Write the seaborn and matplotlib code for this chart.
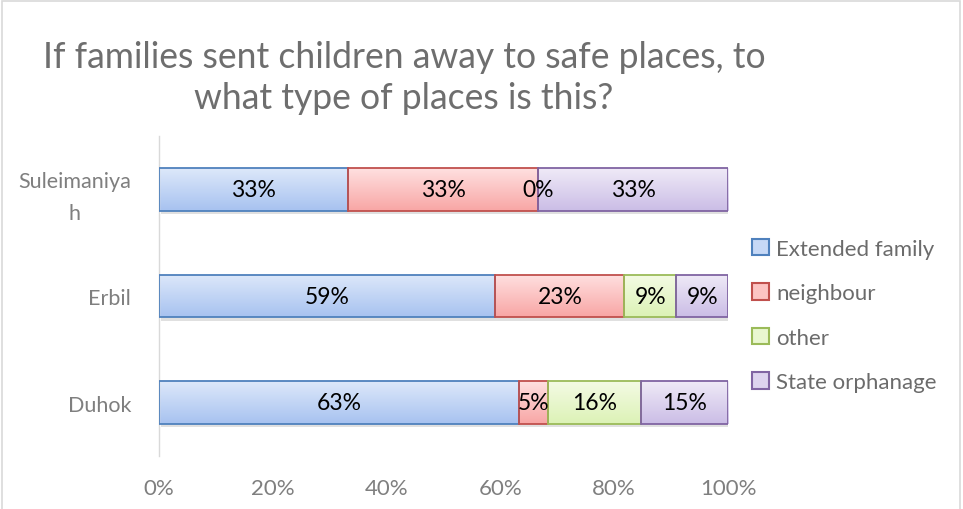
import numpy as np
import pandas as pd
import matplotlib
matplotlib.use("Agg")
import matplotlib.pyplot as plt
import seaborn as sns
from matplotlib.colors import LinearSegmentedColormap
from matplotlib.patches import Patch, Rectangle
from matplotlib import transforms

# ---- data ----
regions = ["Suleimaniyah", "Erbil", "Duhok"]
region_tick_labels = ["Suleimaniya\nh", "Erbil", "Duhok"]
series = ["Extended family", "neighbour", "other", "State orphanage"]
extended_family = [33.3, 59.1, 63.3]
neighbour = [33.3, 22.7, 5.1]
other = [0.0, 9.1, 16.3]
state_orphanage = [33.4, 9.1, 15.3]
x_ticks = [0, 20, 40, 60, 80, 100]
title = "If families sent children away to safe places, to\nwhat type of places is this?"

values = {
    "Extended family": extended_family,
    "neighbour": neighbour,
    "other": other,
    "State orphanage": state_orphanage,
}

# ---- styles ----
edge_colors = ["#4f81bd", "#c0504d", "#9bbb59", "#8064a2"]
grad_top = ["#dde8fa", "#ffe0e0", "#f4fbe4", "#efeaf7"]
grad_bot = ["#a7c2f0", "#f8a6a5", "#dcf2b6", "#cbbde6"]
mid_colors = ["#c6d8f6", "#fcc4c3", "#e9f7d0", "#ddd3ee"]

sns.set_theme(style="white")
plt.rcParams["font.family"] = ["Lato", "DejaVu Sans"]

W, H = 963, 510
fig = plt.figure(figsize=(W / 100, H / 100), dpi=100)
ax = fig.add_axes([159 / W, 1 - 457 / H, 569 / W, 320 / H])

df = pd.DataFrame(values)
df["region"] = regions
left = np.zeros(len(regions))
containers = []
for i, s in enumerate(series):
    sns.barplot(data=df, y="region", x=s, order=regions, orient="h",
                left=left.copy(), width=0.4, color=mid_colors[i],
                edgecolor=edge_colors[i], linewidth=1.3, ax=ax)
    containers.append(ax.containers[-1])
    left = left + df[s].to_numpy()

ax.set_xlim(0, 100)
ax.set_ylim(2.5, -0.5)

# gradient fill + shadow
for i, cont in enumerate(containers):
    cmap = LinearSegmentedColormap.from_list(f"g{i}", [grad_top[i], grad_bot[i]])
    for p in cont.patches:
        x0, y0, w, h = p.get_x(), p.get_y(), p.get_width(), p.get_height()
        if w <= 0:
            p.set_visible(False)
            continue
        sh = Rectangle((x0, y0), w, h, facecolor="black", edgecolor="none", alpha=0.12,
                       transform=transforms.offset_copy(ax.transData, fig=fig, x=1.5, y=-2.5, units="points"),
                       zorder=1)
        ax.add_patch(sh)
        grad = np.linspace(0, 1, 64).reshape(-1, 1)
        im = ax.imshow(grad, cmap=cmap, extent=(x0, x0 + w, y0 + h, y0), origin="upper",
                       aspect="auto", interpolation="bilinear", zorder=2)
        im.set_clip_path(p)
        p.set_facecolor("none")
        p.set_zorder(3)

ax.set_xlim(0, 100)
ax.set_ylim(2.5, -0.5)

for i, cont in enumerate(containers):
    labs = [f"{v:.0f}%" for v in values[series[i]]]
    ax.bar_label(cont, labels=labs, label_type="center", fontsize=16.5, color="black", zorder=5)

ax.set_xticks(x_ticks)
ax.set_xticklabels([f"{t}%" for t in x_ticks])
ax.set_yticks(range(len(regions)))
ax.set_yticklabels(region_tick_labels)
for lab in ax.get_yticklabels():
    lab.set_multialignment("center")
    lab.set_linespacing(1.7)
ax.tick_params(axis="x", length=0, pad=16, labelsize=16, labelcolor="#7f7f7f")
ax.tick_params(axis="y", length=0, pad=20, labelsize=15.5, labelcolor="#7f7f7f")
ax.set_xlabel("")
ax.set_ylabel("")
for sp in ["top", "right", "bottom"]:
    ax.spines[sp].set_visible(False)
ax.spines["left"].set_color("#d9d9d9")
ax.spines["left"].set_linewidth(1)
ax.grid(False)

handles = [Patch(facecolor=mid_colors[i], edgecolor=edge_colors[i], linewidth=1.5) for i in range(4)]
leg = fig.legend(handles, series, loc="center left", bbox_to_anchor=(752 / W, 1 - 316.5 / H),
                 frameon=False, fontsize=16, handlelength=0.75, handleheight=0.75,
                 handletextpad=0.35, labelspacing=1.1, borderpad=0, borderaxespad=0)
for t in leg.get_texts():
    t.set_color("#6b6b6b")

fig.text(404 / W, 1 - 78 / H, title, ha="center", va="center", fontsize=25.6,
         color="#6e6e6e", linespacing=1.3, multialignment="center")

fig.patches.append(Rectangle((2 / W, -0.02), 958 / W, 1 - 2 / H + 0.02, transform=fig.transFigure,
                             facecolor="none", edgecolor="#d9d9d9", linewidth=1.2))

fig.savefig("out.png", dpi=100)
